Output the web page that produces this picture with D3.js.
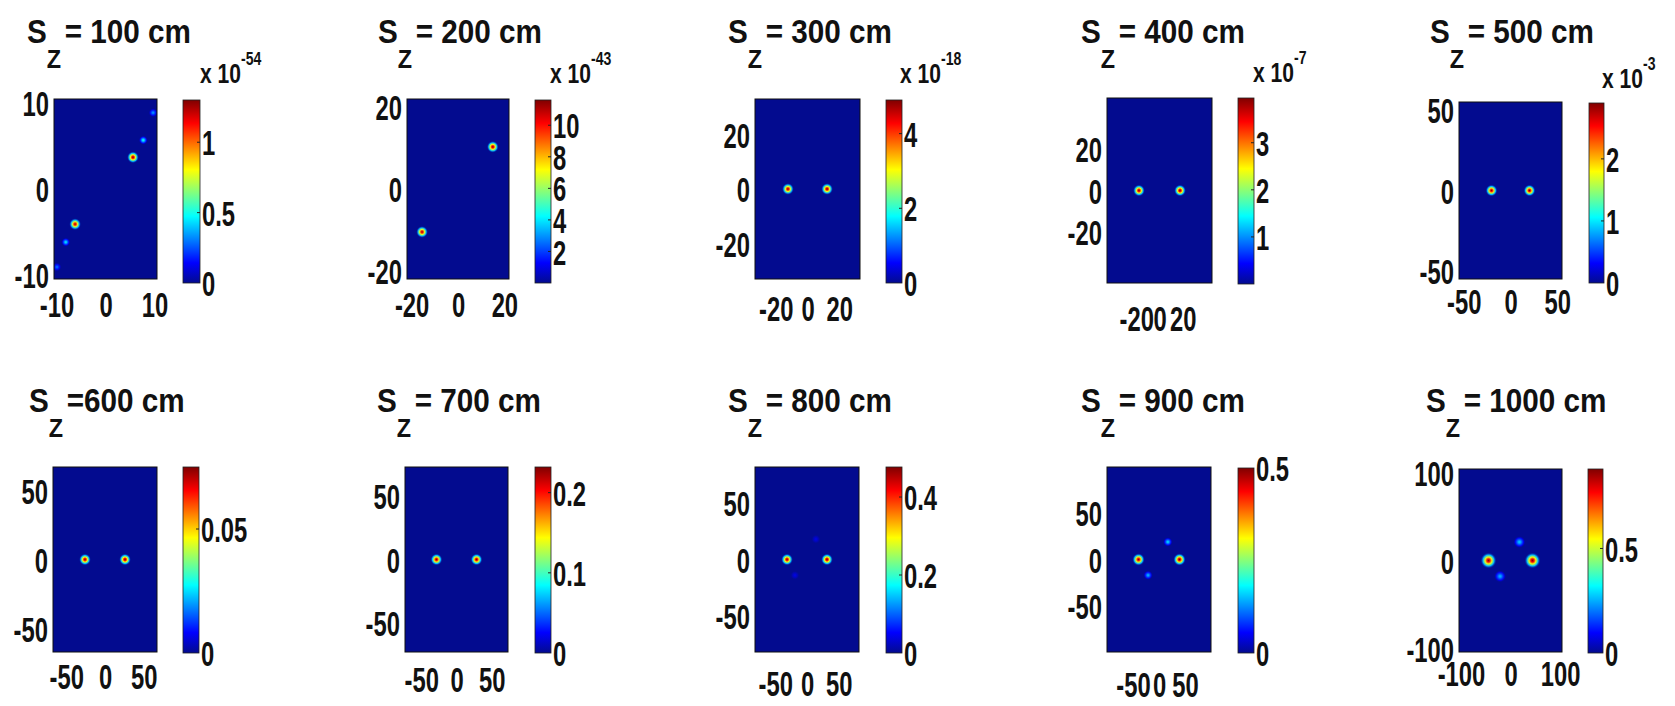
<!DOCTYPE html>
<html>
<head>
<meta charset="utf-8">
<script src="https://cdn.jsdelivr.net/npm/d3@7"></script>
<style>
  body { margin: 0; background: #fff; }
  svg { display: block; }
  text { font-family: "Liberation Sans", Arial, sans-serif; font-weight: bold; fill: #111; }
</style>
</head>
<body>
<svg id="chart" width="1675" height="706"></svg>
<script>
// ---- data -------------------------------------------------------------
// source distance S_Z (cm), one intensity map per distance
const distances = [100, 200, 300, 400, 500, 600, 700, 800, 900, 1000];
const titleText = ["= 100 cm", "= 200 cm", "= 300 cm", "= 400 cm", "= 500 cm",
                   "=600 cm", "= 700 cm", "= 800 cm", "= 900 cm", "= 1000 cm"];
// half width of the square field of view (cm)
const fieldHalf = [10.5, 22, 33, 45, 55, 67, 73, 82, 100, 104];
// tick values on both image axes (cm)
const axisTicks = [
  [-10, 0, 10], [-20, 0, 20], [-20, 0, 20], [-20, 0, 20], [-50, 0, 50],
  [-50, 0, 50], [-50, 0, 50], [-50, 0, 50], [-50, 0, 50], [-100, 0, 100]
];
// colour-bar upper limit, in units of 10^colorExp
const colorMax = [1.3, 11.6, 4.9, 3.95, 2.9, 0.075, 0.232, 0.477, 0.5, 0.88];
const colorExp = [-54, -43, -18, -7, -3, null, null, null, null, null];
const colorTicks = [
  [0, 0.5, 1], [2, 4, 6, 8, 10], [0, 2, 4], [1, 2, 3], [0, 1, 2],
  [0, 0.05], [0, 0.1, 0.2], [0, 0.2, 0.4], [0, 0.5], [0, 0.5]
];
// intensity peaks in each map: [x (cm), y (cm), peak value]
const peaks = [
  [[5.6, 3.7, 1.3], [7.7, 5.7, 0.5], [9.7, 8.9, 0.35], [-6.2, -4.1, 1.25], [-8.1, -6.2, 0.45], [-9.9, -9.1, 0.3]],
  [[15, 10.3, 11.6], [-15.5, -10.5, 11.3]],
  [[12.3, 0, 4.9], [-12.3, 0, 4.8]],
  [[17.6, 0, 3.95], [-17.6, 0, 3.9]],
  [[20.3, 0, 2.9], [-20.3, 0, 2.85]],
  [[25.8, 0, 0.075], [-25.8, 0, 0.074]],
  [[28.4, 0, 0.232], [-28.4, 0, 0.23]],
  [[31.5, 0, 0.477], [-31.5, 0, 0.47], [14, 18, 0.04], [-19, -14, 0.04]],
  [[39.4, 0, 0.5], [-39.4, 0, 0.49], [17, 19, 0.17], [-21, -17, 0.15]],
  [[44.4, 0, 0.88], [-44.4, 0, 0.87], [18, 21, 0.28], [-21, -18, 0.26]]
];

// ---- layout & style ---------------------------------------------------
const layout = [
  { plot: [54, 99, 103, 180],   cbar: [183, 100, 17, 183],  title: [27, 43],    expo: [200, 83],  xPad: 13 },
  { plot: [407, 99, 102, 180],  cbar: [535, 100, 16, 183],  title: [378, 43],   expo: [550, 83],  xPad: 13 },
  { plot: [755, 99, 105, 180],  cbar: [886, 100, 16, 183],  title: [728, 43],   expo: [900, 83],  xPad: 17 },
  { plot: [1107, 98, 105, 185], cbar: [1238, 98, 16, 186],  title: [1081, 43],  expo: [1253, 82], xPad: 23 },
  { plot: [1459, 102, 103, 177],cbar: [1589, 103, 15, 180], title: [1430, 43],  expo: [1602, 88], xPad: 10 },
  { plot: [53, 467, 104, 185],  cbar: [183, 467, 16, 186],  title: [29, 412],   expo: null,       xPad: 12 },
  { plot: [405, 467, 103, 185], cbar: [535, 467, 16, 186],  title: [377, 412],  expo: null,       xPad: 15 },
  { plot: [755, 467, 104, 185], cbar: [886, 467, 16, 186],  title: [728, 412],  expo: null,       xPad: 19 },
  { plot: [1107, 467, 104, 185],cbar: [1238, 468, 16, 185], title: [1081, 412], expo: null,       xPad: 20 },
  { plot: [1459, 469, 103, 183],cbar: [1588, 469, 15, 184], title: [1426, 412], expo: null,       xPad: 9 }
];
const spotScale = [1, 1, 1, 1, 1, 1, 1, 1, 1.05, 1.35];
const spotRadius = 6;
const tickFont = 35, tickSqueeze = 0.68;
const titleFont = 33, titleSqueeze = 0.9;

// MATLAB-style "jet" colour map on [0, 1]
const jetStops = [0, 0.11, 0.365, 0.62, 0.873, 1];
const jet = d3.scaleLinear()
  .domain(jetStops)
  .range(["#030b8f", "#0000ff", "#00ffff", "#ffff00", "#ff0000", "#800000"])
  .clamp(true);

// radial falloff of a peak: [fraction of radius, fraction of peak]
const falloff = [[0, 1], [0.2, 0.86], [0.42, 0.6], [0.68, 0.3], [1, 0.02]];

const svg = d3.select("#chart");
const defs = svg.append("defs");
const fmt = d => String(d);

distances.forEach((dist, i) => {
  const L = layout[i];
  const [px, py, pw, ph] = L.plot;
  const [cx, cy, cw, ch] = L.cbar;
  const g = svg.append("g");

  const x = d3.scaleLinear().domain([-fieldHalf[i], fieldHalf[i]]).range([px, px + pw]);
  const y = d3.scaleLinear().domain([-fieldHalf[i], fieldHalf[i]]).range([py + ph, py]);
  const norm = d3.scaleLinear().domain([0, colorMax[i]]).range([0, 1]);
  const color = v => jet(norm(v));

  // image background (zero intensity)
  g.append("rect")
    .attr("x", px).attr("y", py).attr("width", pw).attr("height", ph)
    .attr("fill", color(0));

  // intensity peaks
  const clipId = "clip" + i;
  defs.append("clipPath").attr("id", clipId)
    .append("rect").attr("x", px).attr("y", py).attr("width", pw).attr("height", ph);
  const spots = g.append("g").attr("clip-path", `url(#${clipId})`);
  peaks[i].forEach((p, j) => {
    const id = `pk${i}_${j}`;
    const grad = defs.append("radialGradient").attr("id", id);
    falloff.forEach(([r, f]) => {
      grad.append("stop")
        .attr("offset", r)
        .attr("stop-color", color(p[2] * f))
        .attr("stop-opacity", r === 1 ? 0 : 1);
    });
    const rel = norm(p[2]);
    const r = spotRadius * spotScale[i] * (rel > 0.6 ? 1 : 0.75);
    spots.append("circle")
      .attr("cx", x(p[0])).attr("cy", y(p[1]))
      .attr("r", r)
      .attr("fill", `url(#${id})`);
  });

  // axes box
  g.append("rect")
    .attr("x", px).attr("y", py).attr("width", pw).attr("height", ph)
    .attr("fill", "none").attr("stroke", "#111").attr("stroke-width", 1);

  // image axes (labels only)
  const ax = g.append("g").attr("transform", `translate(0,${py + ph})`)
    .call(d3.axisBottom(x).tickValues(axisTicks[i]).tickSize(0).tickPadding(L.xPad).tickFormat(fmt));
  const ay = g.append("g").attr("transform", `translate(${px},0)`)
    .call(d3.axisLeft(y).tickValues(axisTicks[i]).tickSize(0).tickPadding(0).tickFormat(fmt));
  [ax, ay].forEach(a => {
    a.select(".domain").remove();
    a.attr("font-size", tickFont).attr("font-family", null);
  });
  ax.selectAll("text").attr("transform", `scale(${tickSqueeze},1)`).attr("dy", "0.72em");
  ay.selectAll("text").attr("transform", `scale(${tickSqueeze},1)`)
    .attr("x", -5 / tickSqueeze).attr("dy", "0.36em");

  // colour bar
  const gradId = "cb" + i;
  const cg = defs.append("linearGradient").attr("id", gradId)
    .attr("x1", 0).attr("y1", 1).attr("x2", 0).attr("y2", 0);
  jetStops.forEach(t => cg.append("stop").attr("offset", t).attr("stop-color", jet(t)));
  g.append("rect")
    .attr("x", cx).attr("y", cy).attr("width", cw).attr("height", ch)
    .attr("fill", `url(#${gradId})`)
    .attr("stroke", "#222").attr("stroke-width", 0.8);

  const cScale = d3.scaleLinear().domain([0, colorMax[i]]).range([cy + ch, cy]);
  g.append("g").selectAll("line")
    .data(colorTicks[i].filter(t => t > 0 && t < colorMax[i]))
    .join("line")
    .attr("x1", cx + cw - 3).attr("x2", cx + cw)
    .attr("y1", d => cScale(d)).attr("y2", d => cScale(d))
    .attr("stroke", "#222").attr("stroke-width", 1);
  const ac = g.append("g").attr("transform", `translate(${cx + cw},0)`)
    .call(d3.axisRight(cScale).tickValues(colorTicks[i]).tickSize(0).tickPadding(0)
      .tickFormat(d => d3.format("~g")(d)));
  ac.select(".domain").remove();
  ac.attr("font-size", tickFont).attr("font-family", null);
  ac.selectAll("text").attr("transform", `scale(${tickSqueeze},1)`)
    .attr("x", 2 / tickSqueeze).attr("dy", "0.36em");

  // colour-bar multiplier
  if (colorExp[i] !== null) {
    const [ex, ey] = L.expo;
    const t = g.append("text")
      .attr("transform", `translate(${ex},${ey}) scale(0.78,1)`)
      .attr("font-size", 27);
    t.append("tspan").text("x 10");
    t.append("tspan").attr("font-size", 18).attr("dy", -18).text(String(colorExp[i]));
  }

  // panel title  S_Z = ... cm
  const [tx, ty] = L.title;
  const tt = g.append("text")
    .attr("transform", `translate(${tx},${ty}) scale(${titleSqueeze},1)`)
    .attr("font-size", titleFont);
  tt.append("tspan").text("S");
  tt.append("tspan").attr("font-size", 26).attr("dy", 25).text("Z");
  tt.append("tspan").attr("dy", -25).attr("dx", 4).text(titleText[i]);
});
</script>
</body>
</html>
